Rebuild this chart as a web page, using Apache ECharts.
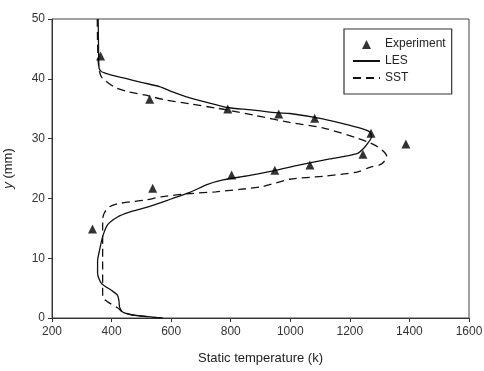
<!DOCTYPE html>
<html>
<head>
  <meta charset="utf-8">
  <title>Static temperature profile</title>
  <script src="https://cdn.jsdelivr.net/npm/echarts@6/dist/echarts.min.js"></script>
</head>
<body style="margin:0">
<div id="main" style="width:484px;height:371px;"></div>
<script type="text/javascript">
  // experiment points
  var expT = [363, 528, 790, 961, 1082, 1271, 1388, 1244, 1066, 948, 803, 538, 336];
  var expY = [43.8, 36.6, 34.95, 34.1, 33.4, 30.9, 29.1, 27.4, 25.6, 24.7, 23.9, 21.7, 14.9];

  // LES profile (temperature, y), read from top to bottom
  var lesT = [355, 356, 357, 358, 366, 376, 410, 444, 500, 561, 600, 663, 740, 787, 870, 958, 999, 1109, 1200, 1250, 1267, 1272, 1261, 1245, 1224, 1133, 1032, 942, 860, 774, 720, 663, 600, 511, 460, 420, 387, 370, 360, 353, 353, 366, 400, 420, 425, 427, 437, 471, 538, 572];
  var lesY = [50, 46, 43, 41.8, 41.2, 41.0, 40.5, 40.1, 39.4, 38.7, 37.9, 36.8, 35.8, 35.2, 34.8, 34.3, 34.2, 33.3, 32.2, 31.5, 31.1, 30.2, 29.3, 28.3, 27.5, 26.6, 25.6, 24.6, 23.8, 23.1, 22.3, 21.0, 19.9, 18.4, 17.7, 16.9, 15.6, 13.6, 11.4, 9.5, 7.5, 5.8, 4.6, 3.8, 2.8, 1.8, 1.0, 0.5, 0.15, 0];

  // SST profile
  var sstT = [352, 353, 355, 357, 360, 366, 376, 410, 450, 511, 578, 663, 752, 787, 880, 998, 1109, 1224, 1267, 1294, 1318, 1324, 1312, 1300, 1267, 1224, 1109, 998, 908, 830, 750, 663, 571, 511, 460, 420, 393, 376, 370, 370, 370, 387, 420, 437, 471, 538, 572];
  var sstY = [50, 46, 43, 42, 41.1, 40.3, 39.8, 38.6, 37.9, 37.3, 36.5, 35.8, 35.1, 34.8, 33.9, 32.7, 31.8, 30.1, 29.3, 28.6, 27.6, 27.0, 26.0, 25.6, 25.2, 24.4, 23.7, 23.2, 22.0, 21.5, 21.1, 20.8, 20.3, 19.7, 19.4, 19.1, 18.6, 17.6, 16.5, 10, 3.5, 2.7, 1.7, 1.0, 0.5, 0.15, 0];

  function pairs(xs, ys) {
    return xs.map(function (x, i) { return [x, ys[i]]; });
  }

  var myChart = echarts.init(document.getElementById('main'));

  var font = 'Liberation Sans, Arial, sans-serif';
  var noDot = { color: 'rgba(0,0,0,0)', borderColor: 'rgba(0,0,0,0)', borderWidth: 0 };
  // triangle padded to the full icon box so it is not stretched
  var triIcon = 'path://M0,0M27,10M9,10L13.5,1L18,10Z';

  var option = {
    backgroundColor: '#fff',
    animation: false,
    textStyle: { fontFamily: font },
    grid: {
      left: 52, right: 15, top: 19, bottom: 53,
      outerBoundsMode: 'none',
      show: true, borderColor: '#444', borderWidth: 1
    },
    legend: {
      orient: 'vertical',
      left: 344, top: 29,
      padding: [9, 6, 10, 8],
      itemGap: 5,
      itemWidth: 27,
      itemHeight: 10,
      borderColor: '#333',
      borderWidth: 1.2,
      textStyle: { fontFamily: font, fontSize: 12, color: '#222' },
      data: [
        { name: 'Experiment', icon: triIcon },
        { name: 'LES', itemStyle: noDot },
        { name: 'SST', itemStyle: noDot }
      ]
    },
    xAxis: {
      type: 'value',
      min: 200, max: 1600, interval: 200,
      name: 'Static temperature (k)',
      nameLocation: 'middle',
      nameGap: 34,
      nameTextStyle: { fontFamily: font, fontSize: 13, color: '#222' },
      axisLine: { lineStyle: { color: '#333', width: 1 } },
      axisTick: { length: 4, lineStyle: { color: '#333' } },
      axisLabel: {
        fontFamily: font, fontSize: 12, color: '#333', margin: 8,
        formatter: function (v) { return String(v); }
      },
      splitLine: { show: false }
    },
    yAxis: {
      type: 'value',
      min: 0, max: 50, interval: 10,
      name: '{i|y} (mm)',
      nameLocation: 'middle',
      nameRotate: 90,
      nameGap: 37,
      nameTextStyle: {
        fontFamily: font, fontSize: 13, color: '#222',
        rich: { i: { fontFamily: font, fontSize: 13, fontStyle: 'italic', color: '#222' } }
      },
      axisLine: { show: true, lineStyle: { color: '#333', width: 1 } },
      axisTick: { show: true, length: 4, lineStyle: { color: '#333' } },
      axisLabel: { fontFamily: font, fontSize: 12, color: '#333', margin: 7 },
      splitLine: { show: false }
    },
    series: [
      {
        name: 'Experiment',
        type: 'scatter',
        symbol: 'triangle',
        symbolSize: 9,
        itemStyle: { color: '#000' },
        data: pairs(expT, expY),
        z: 5
      },
      {
        name: 'LES',
        type: 'line',
        symbol: 'none',
        smooth: 0.25,
        lineStyle: { color: '#111', width: 1.3, type: 'solid' },
        itemStyle: { color: '#111' },
        data: pairs(lesT, lesY)
      },
      {
        name: 'SST',
        type: 'line',
        symbol: 'none',
        smooth: 0.25,
        lineStyle: { color: '#111', width: 1.3, type: [8, 5] },
        itemStyle: { color: '#111' },
        data: pairs(sstT, sstY)
      }
    ]
  };

  myChart.setOption(option);
</script>
</body>
</html>
